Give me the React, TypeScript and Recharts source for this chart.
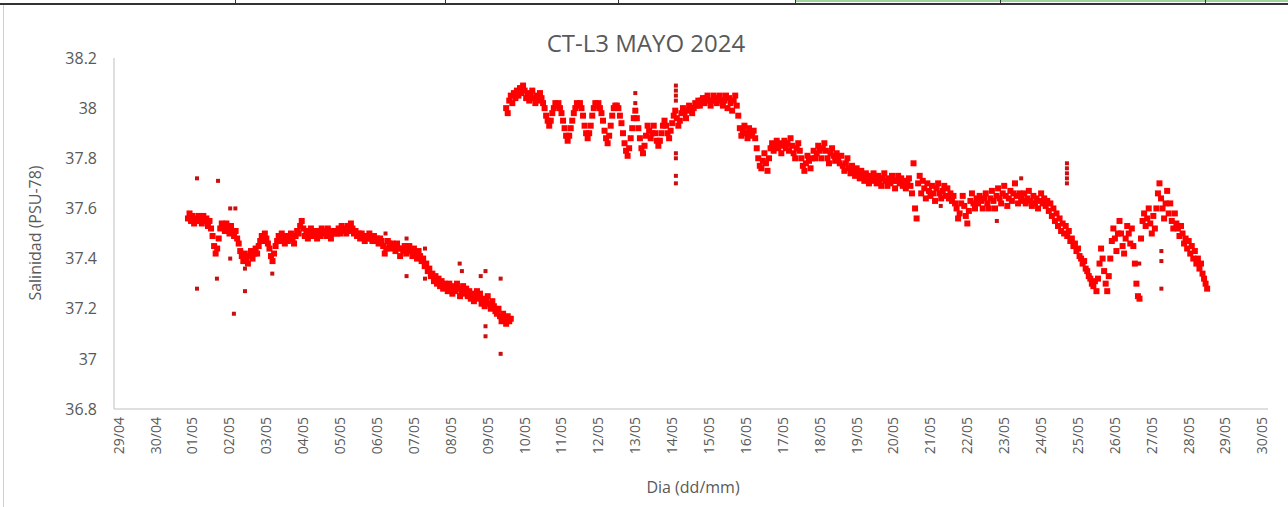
import React from "react";
import { ScatterChart, Scatter, XAxis, YAxis } from "recharts";

// x axis: one tick per day, 29/04 = 0
const tickLabels = [
    "29/04", "30/04", "01/05", "02/05", "03/05", "04/05", "05/05", "06/05",
    "07/05", "08/05", "09/05", "10/05", "11/05", "12/05", "13/05", "14/05",
    "15/05", "16/05", "17/05", "18/05", "19/05", "20/05", "21/05", "22/05",
    "23/05", "24/05", "25/05", "26/05", "27/05", "28/05", "29/05", "30/05"
];
const dayTicks = tickLabels.map((_, i) => i);
const yTicks = [36.8, 37, 37.2, 37.4, 37.6, 37.8, 38, 38.2];

// hourly readings, start given in days since 29/04
const sampleStep = 1 / 24;

const leftStart = 1.875;
const leftValues = [
    37.56, 37.58, 37.55, 37.57, 37.54, 37.56, 37.55, 37.57, 37.56, 37.54, 37.57, 37.55, 37.56, 37.53, 37.55, 37.52, 37.49, 37.45, 37.42, 37.44, 37.48, 37.52, 37.54, 37.53,
    37.51, 37.54, 37.52, 37.50, 37.53, 37.51, 37.49, 37.51, 37.48, 37.46, 37.43, 37.41, 37.39, 37.42, 37.40, 37.38, 37.41, 37.43, 37.40, 37.42, 37.44, 37.42, 37.45, 37.47,
    37.49, 37.47, 37.50, 37.48, 37.46, 37.44, 37.41, 37.39, 37.42, 37.45, 37.47, 37.49, 37.47, 37.50, 37.48, 37.46, 37.49, 37.47, 37.48, 37.50, 37.48, 37.46, 37.49, 37.51,
    37.50, 37.53, 37.55, 37.52, 37.49, 37.51, 37.48, 37.50, 37.52, 37.49, 37.51, 37.50, 37.48, 37.51, 37.49, 37.52, 37.50, 37.51, 37.49, 37.52, 37.50, 37.48, 37.51, 37.50,
    37.51, 37.50, 37.52, 37.50, 37.53, 37.51, 37.52, 37.50, 37.53, 37.51, 37.54, 37.52, 37.50, 37.51, 37.49, 37.50, 37.48, 37.50, 37.49, 37.47, 37.49, 37.48, 37.50, 37.48,
    37.47, 37.49, 37.47, 37.48, 37.46, 37.48, 37.47, 37.45, 37.42, 37.44, 37.47, 37.46, 37.44, 37.46, 37.45, 37.43, 37.46, 37.44, 37.41, 37.44, 37.43, 37.45, 37.42, 37.44,
    37.45, 37.43, 37.41, 37.44, 37.42, 37.40, 37.43, 37.41, 37.39, 37.40, 37.37, 37.38, 37.35, 37.36, 37.33, 37.34, 37.31, 37.33, 37.30, 37.32, 37.29, 37.31, 37.28, 37.30,
    37.29, 37.27, 37.30, 37.28, 37.26, 37.29, 37.27, 37.30, 37.28, 37.25, 37.27, 37.29, 37.26, 37.28, 37.25, 37.27, 37.24, 37.26, 37.23, 37.25, 37.27, 37.24, 37.26, 37.22,
    37.24, 37.21, 37.23, 37.25, 37.22, 37.20, 37.23, 37.21, 37.19, 37.18, 37.20, 37.17, 37.15, 37.18, 37.16, 37.14, 37.17, 37.15, 37.16
];

const rightStart = 10.5;
const rightValues = [
    38.00, 37.98, 38.03, 38.05, 38.02, 38.06, 38.04, 38.07, 38.05, 38.08, 38.06, 38.09, 38.07, 38.04, 38.06, 38.03, 38.05, 38.07, 38.04, 38.02, 38.05, 38.03, 38.06, 38.04,
    38.02, 38.00, 37.97, 37.95, 37.93, 37.95, 37.98, 38.00, 38.02, 38.01, 38.02, 38.00, 37.98, 37.95, 37.92, 37.89, 37.87, 37.89, 37.92, 37.95, 37.98, 38.00, 38.02, 38.01,
    38.02, 38.00, 37.97, 37.93, 37.90, 37.88, 37.90, 37.93, 37.97, 38.00, 38.02, 38.01, 38.02, 38.00, 37.98, 37.95, 37.91, 37.88, 37.86, 37.89, 37.93, 37.97, 38.00, 38.01,
    38.01, 38.00, 37.97, 37.94, 37.90, 37.86, 37.83, 37.81, 37.84, 37.88, 37.92, 37.96, 37.99, 37.96, 37.92, 37.88, 37.84, 37.82, 37.85, 37.89, 37.93, 37.91, 37.88, 37.90,
    37.93, 37.90, 37.87, 37.85, 37.87, 37.90, 37.93, 37.95, 37.93, 37.90, 37.88, 37.91, 37.94, 37.97, 37.99, 37.96, 37.93, 37.95, 37.98, 38.00, 37.98, 37.96, 37.99, 38.01,
    38.00, 37.98, 38.00, 38.02, 38.01, 38.03, 38.01, 38.03, 38.04, 38.02, 38.04, 38.05, 38.03, 38.01, 38.03, 38.05, 38.04, 38.02, 38.04, 38.05, 38.03, 38.01, 38.03, 38.05,
    38.00, 38.04, 38.02, 37.99, 38.03, 38.05, 38.01, 37.97, 37.92, 37.89, 37.91, 37.93, 37.90, 37.88, 37.92, 37.90, 37.89, 37.91, 37.88, 37.84, 37.80, 37.77, 37.76, 37.79,
    37.82, 37.78, 37.75, 37.80, 37.84, 37.86, 37.83, 37.85, 37.87, 37.84, 37.86, 37.82, 37.85, 37.87, 37.84, 37.86, 37.83, 37.88, 37.85, 37.82, 37.80, 37.84, 37.86, 37.83,
    37.80, 37.77, 37.75, 37.78, 37.81, 37.79, 37.76, 37.80, 37.83, 37.80, 37.82, 37.85, 37.83, 37.80, 37.84, 37.86, 37.83, 37.80, 37.78, 37.82, 37.84, 37.81, 37.79, 37.82,
    37.80, 37.78, 37.81, 37.77, 37.75, 37.78, 37.80, 37.76, 37.74, 37.77, 37.75, 37.73, 37.76, 37.74, 37.72, 37.75, 37.73, 37.71, 37.74, 37.72, 37.70, 37.73, 37.71, 37.74,
    37.72, 37.70, 37.73, 37.71, 37.69, 37.72, 37.74, 37.71, 37.69, 37.72, 37.70, 37.73, 37.71, 37.68, 37.71, 37.73, 37.70, 37.72, 37.69, 37.71, 37.68, 37.70, 37.72, 37.69,
    37.66, 37.78, 37.60, 37.56, 37.70, 37.73, 37.66, 37.71, 37.68, 37.64, 37.70, 37.67, 37.65, 37.69, 37.66, 37.63, 37.68, 37.70, 37.66, 37.64, 37.67, 37.69, 37.65, 37.68,
    37.64, 37.66, 37.63, 37.65, 37.62, 37.60, 37.56, 37.58, 37.62, 37.65, 37.61, 37.57, 37.54, 37.59, 37.63, 37.66, 37.62, 37.60, 37.64, 37.62, 37.65, 37.63, 37.60, 37.64,
    37.66, 37.62, 37.60, 37.64, 37.67, 37.63, 37.60, 37.65, 37.68, 37.64, 37.62, 37.66, 37.69, 37.65, 37.61, 37.64, 37.67, 37.63, 37.66, 37.70, 37.65, 37.62, 37.66, 37.64,
    37.63, 37.66, 37.62, 37.64, 37.67, 37.63, 37.61, 37.65, 37.62, 37.64, 37.60, 37.63, 37.66, 37.62, 37.64, 37.61, 37.63, 37.59, 37.62, 37.57, 37.60, 37.55, 37.58, 37.53,
    37.56, 37.51, 37.54, 37.50, 37.53, 37.49, 37.51, 37.47, 37.48, 37.45, 37.46, 37.43, 37.44, 37.41, 37.40, 37.38, 37.39, 37.36, 37.35, 37.33, 37.32, 37.30, 37.29, 37.31,
    37.27, 37.32, 37.38, 37.44, 37.40, 37.35, 37.30, 37.27, 37.33, 37.40, 37.47, 37.52, 37.48, 37.43, 37.50, 37.55, 37.50, 37.45, 37.42, 37.48, 37.53, 37.50, 37.46, 37.52,
    37.45, 37.38, 37.30, 37.25, 37.24, 37.48, 37.55, 37.58, 37.53, 37.56, 37.60, 37.54, 37.50, 37.57, 37.52, 37.60, 37.66, 37.70, 37.64, 37.60, 37.56, 37.62, 37.67, 37.58,
    37.62, 37.55, 37.52, 37.58, 37.54, 37.52, 37.49, 37.53, 37.50, 37.46, 37.48, 37.44, 37.47, 37.42, 37.45, 37.40, 37.43, 37.38, 37.40, 37.36, 37.38, 37.34, 37.32, 37.30,
    37.28
];

// isolated readings away from the main cloud
const spikeDays = [
    2.12, 2.12, 2.69, 2.66, 3.02, 3.16, 3.02, 3.12, 3.42, 3.42, 4.16, 7.23, 7.8, 7.8,
    8.3, 8.3, 9.24, 9.3, 9.81, 9.94, 9.94, 9.94, 10.35, 10.35,
    14.0, 14.0, 15.1, 15.1, 15.1, 15.1, 15.1, 15.1, 15.1, 15.1,
    22.28, 23.8, 24.46, 25.7, 25.7, 25.7, 25.7, 25.7, 27.66, 28.26, 28.26, 28.26
];
const spikeValues = [
    37.72, 37.28, 37.71, 37.32, 37.60, 37.60, 37.40, 37.18, 37.36, 37.27, 37.34, 37.50, 37.48, 37.33,
    37.44, 37.32, 37.38, 37.35, 37.33, 37.35, 37.13, 37.09, 37.32, 37.02,
    38.06, 38.02, 38.09, 38.07, 38.05, 38.03, 37.82, 37.80, 37.73, 37.70,
    37.61, 37.55, 37.72, 37.78, 37.76, 37.74, 37.72, 37.70, 37.38, 37.43, 37.39, 37.28
];

const toPoints = (start: number, values: number[]) =>
    values.map((v, i) => ({ day: start + i * sampleStep, sal: v }));

const leftData = toPoints(leftStart, leftValues);
const rightData = toPoints(rightStart, rightValues);
const spikeData = spikeDays.map((d, i) => ({ day: d, sal: spikeValues[i] }));

const FONT = "'Open Sans', 'Noto Sans', sans-serif";
const TEXT = "#595959";

const square = (size: number, color: string) => (p: any) => (
    <rect x={p.cx - size / 2} y={p.cy - size / 2} width={size} height={size} fill={color} />
);

const DateTick = ({ x, y, payload }: any) => (
    <text
        x={x}
        y={y}
        transform={`rotate(-90, ${x}, ${y})`}
        textAnchor="end"
        dy="0.35em"
        fill={TEXT}
        fontSize={14}
        fontFamily={FONT}
    >
        {tickLabels[payload.value]}
    </text>
);

const App = () => {
    return (
        <div style={{ position: "absolute", left: 0, top: 0, width: 1288, height: 507, background: "#fff", overflow: "hidden" }}>
            {/* spreadsheet frame around the pasted chart */}
            <div style={{ position: "absolute", left: 0, top: 3, width: 1288, height: 2, background: "#333" }} />
            <div style={{ position: "absolute", left: 795, top: 0, width: 493, height: 2, background: "#9fd39f" }} />
            {[235, 445, 618, 795, 1000, 1205].map((x) => (
                <div key={x} style={{ position: "absolute", left: x, top: 0, width: 1, height: 4, background: "#333" }} />
            ))}
            <div style={{ position: "absolute", left: 3, top: 5, width: 1, height: 502, background: "#d0d0d0" }} />

            <div style={{ position: "absolute", left: 0, width: 1292, top: 26, textAlign: "center", fontFamily: FONT, fontSize: 24, color: TEXT }}>
                CT-L3 MAYO 2024
            </div>

            <ScatterChart width={1288} height={507} margin={{ top: 58, right: 20, left: 0, bottom: 0 }}>
                <XAxis
                    type="number"
                    dataKey="day"
                    domain={[-0.13, 31.15]}
                    ticks={dayTicks}
                    interval={0}
                    tick={<DateTick />}
                    tickLine={false}
                    axisLine={{ stroke: "#bfbfbf" }}
                    height={98}
                />
                <YAxis
                    type="number"
                    dataKey="sal"
                    domain={[36.8, 38.2]}
                    ticks={yTicks}
                    interval={0}
                    tickLine={false}
                    tickMargin={11}
                    axisLine={{ stroke: "#bfbfbf" }}
                    tick={{ fill: TEXT, fontSize: 16, fontFamily: FONT }}
                    width={114}
                />
                <Scatter data={leftData} shape={square(6, "#ff0000")} isAnimationActive={false} />
                <Scatter data={rightData} shape={square(6, "#ff0000")} isAnimationActive={false} />
                <Scatter data={spikeData} shape={square(4, "#c81010")} isAnimationActive={false} />
            </ScatterChart>

            <div
                style={{
                    position: "absolute", left: 35, top: 233, transform: "translate(-50%, -50%) rotate(-90deg)",
                    whiteSpace: "nowrap", fontFamily: FONT, fontSize: 16, color: TEXT
                }}
            >
                Salinidad (PSU-78)
            </div>
            <div
                style={{
                    position: "absolute", left: 693, top: 487, transform: "translate(-50%, -50%)",
                    whiteSpace: "nowrap", fontFamily: FONT, fontSize: 16, color: TEXT
                }}
            >
                Dia (dd/mm)
            </div>
        </div>
    );
};

export default App;
